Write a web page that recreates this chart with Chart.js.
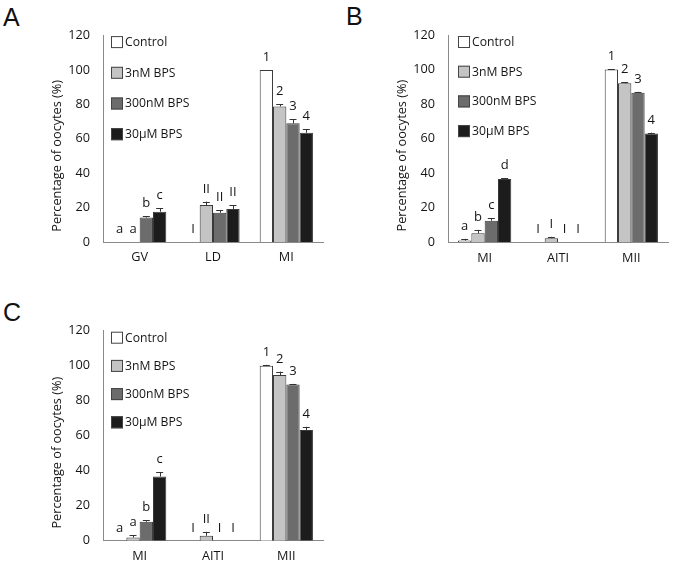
<!DOCTYPE html>
<html lang="en">
<head>
<meta charset="UTF-8">
<title>BPS - oocyte maturation</title>
<style>
  body { margin: 0; background: #fff; width: 675px; height: 567px; position: relative; overflow: hidden; }
  canvas { position: absolute; }
  .tag { position: absolute; font-family: "Liberation Sans", Arial, sans-serif; font-size: 25px; line-height: 25px; color: #111; }
</style>
</head>
<body>
<div class="tag" style="left:3px;top:5px">A</div>
<div class="tag" style="left:346px;top:4px">B</div>
<div class="tag" style="left:3px;top:300px">C</div>
<canvas id="chartA" width="337" height="290" style="left:0;top:0"></canvas>
<canvas id="chartB" width="335" height="290" style="left:340px;top:0"></canvas>
<canvas id="chartC" width="337" height="277" style="left:0;top:290px"></canvas>

<script src="https://cdn.jsdelivr.net/npm/chart.js@4"></script>
<script>
const seriesNames = ['Control', '3nM BPS', '300nM BPS', '30μM BPS'];
const seriesColors = ['#ffffff', '#c4c4c4', '#6c6c6c', '#1c1c1c'];
const yTicks = [0, 20, 40, 60, 80, 100, 120];
const yTitle = 'Percentage of oocytes (%)';

// panel A
const catsA = ['GV', 'LD', 'MI'];
const controlA = [0, 0, 100];
const bps3nA = [0, 21.5, 78.8];
const bps300nA = [14.2, 17, 69];
const bps30uA = [17.6, 19.2, 63.5];
const errControlA = [0, 0, 0];
const err3nA = [0, 2, 1.3];
const err300nA = [0.8, 1.5, 2.5];
const err30uA = [2, 2.2, 2.2];
const marksA = [['a', 'I', '1'], ['a', 'II', '2'], ['b', 'II', '3'], ['c', 'II', '4']];

// panel B
const catsB = ['MI', 'AITI', 'MII'];
const controlB = [1, 0, 100];
const bps3nB = [5.2, 2.4, 92];
const bps300nB = [12.5, 0, 86.5];
const bps30uB = [36.6, 0, 63];
const errControlB = [1, 0, 0.3];
const err3nB = [2, 0.8, 0.6];
const err300nB = [1.4, 0, 0.6];
const err30uB = [0.6, 0, 0.5];
const marksB = [['a', 'I', '1'], ['b', 'I', '2'], ['c', 'I', '3'], ['d', 'I', '4']];

// panel C
const catsC = ['MI', 'AITI', 'MII'];
const controlC = [0, 0, 100];
const bps3nC = [1.8, 2.8, 94.7];
const bps300nC = [10.8, 0, 89.3];
const bps30uC = [36.7, 0, 63.3];
const errControlC = [0, 0, 0.5];
const err3nC = [1.4, 2.3, 1.9];
const err300nC = [1, 0, 0.3];
const err30uC = [2.3, 0, 1.8];
const marksC = [['a', 'I', '1'], ['a', 'II', '2'], ['b', 'I', '3'], ['c', 'I', '4']];

Chart.defaults.font.family = '"Open Sans", sans-serif';
Chart.defaults.color = '#151515';

// error bars, group letters, legend and y title drawn on top of the bars
function decor(extra) {
  return {
    id: 'decor',
    afterDatasetsDraw(chart) {
      const ctx = chart.ctx;
      const y = chart.scales.y;
      const area = chart.chartArea;
      ctx.save();
      chart.data.datasets.forEach((ds, i) => {
        const meta = chart.getDatasetMeta(i);
        meta.data.forEach((bar, j) => {
          const v = ds.data[j];
          const e = extra.errors[i][j];
          const top = y.getPixelForValue(v + e);
          if (e > 0) {
            const y0 = y.getPixelForValue(v);
            ctx.strokeStyle = '#333';
            ctx.lineWidth = 1;
            ctx.beginPath();
            ctx.moveTo(Math.round(bar.x) + 0.5, y0);
            ctx.lineTo(Math.round(bar.x) + 0.5, top);
            ctx.moveTo(bar.x - 3.5, Math.round(top) + 0.5);
            ctx.lineTo(bar.x + 3.5, Math.round(top) + 0.5);
            ctx.stroke();
          }
          ctx.fillStyle = '#151515';
          ctx.font = '13px "Open Sans", sans-serif';
          ctx.textAlign = 'center';
          ctx.textBaseline = 'alphabetic';
          ctx.fillText(extra.marks[i][j], bar.x, top - 9);
        });
      });

      // legend inside the plot
      ctx.font = '12.2px "Open Sans", sans-serif';
      ctx.textAlign = 'left';
      ctx.textBaseline = 'middle';
      seriesNames.forEach((name, i) => {
        const cy = area.top + extra.legendTop + i * extra.legendStep;
        const bx = area.left + extra.legendLeft;
        ctx.fillStyle = seriesColors[i];
        ctx.fillRect(bx, cy - 6, 12, 12);
        ctx.strokeStyle = '#444';
        ctx.lineWidth = 1;
        ctx.strokeRect(bx + 0.5, cy - 5.5, 11, 11);
        ctx.fillStyle = '#151515';
        ctx.fillText(name, bx + 14, cy + 0.5);
      });

      // y axis title
      ctx.translate(area.left - 46, (area.top + area.bottom) / 2 + 17);
      ctx.rotate(-Math.PI / 2);
      ctx.textAlign = 'center';
      ctx.font = '12.7px "Open Sans", sans-serif';
      ctx.fillText(yTitle, 0, 0);
      ctx.restore();
    }
  };
}

function makeChart(id, cats, series, extra, box) {
  const canvas = document.getElementById(id);
  return new Chart(canvas, {
    type: 'bar',
    data: {
      labels: cats,
      datasets: series.map((vals, i) => ({
        label: seriesNames[i],
        data: vals,
        backgroundColor: seriesColors[i],
        borderColor: '#3a3a3a',
        borderWidth: 1,
        borderSkipped: 'start',
        categoryPercentage: 0.726,
        barPercentage: 1
      }))
    },
    options: {
      responsive: false,
      animation: false,
      layout: { padding: { left: 0, top: box.top, right: canvas.width - box.right, bottom: 0 } },
      plugins: { legend: { display: false }, tooltip: { enabled: false } },
      scales: {
        x: {
          grid: { display: false, drawTicks: false },
          border: { display: true, color: '#8a8a8a', width: 1 },
          ticks: { font: { size: 12.7 }, padding: 8, color: '#151515' },
          afterFit: (s) => { s.height = canvas.height - box.bottom; }
        },
        y: {
          min: 0,
          max: 120,
          grid: { display: false, drawTicks: false },
          border: { display: true, color: '#8a8a8a', width: 1 },
          ticks: { font: { size: 12.7 }, padding: 13, color: '#151515' },
          afterBuildTicks: (s) => { s.ticks = yTicks.map(v => ({ value: v })); },
          afterFit: (s) => { s.width = box.left; }
        }
      }
    },
    plugins: [decor(extra)]
  });
}

makeChart('chartA', catsA, [controlA, bps3nA, bps300nA, bps30uA],
  { errors: [errControlA, err3nA, err300nA, err30uA], marks: marksA, legendLeft: 8, legendTop: 6.5, legendStep: 30.7 },
  { left: 103, top: 35.6, right: 323, bottom: 242 });

makeChart('chartB', catsB, [controlB, bps3nB, bps300nB, bps30uB],
  { errors: [errControlB, err3nB, err300nB, err30uB], marks: marksB, legendLeft: 10, legendTop: 7, legendStep: 29.7 },
  { left: 108, top: 35, right: 328, bottom: 242.3 });

makeChart('chartC', catsC, [controlC, bps3nC, bps300nC, bps30uC],
  { errors: [errControlC, err3nC, err300nC, err30uC], marks: marksC, legendLeft: 8, legendTop: 7, legendStep: 28.2 },
  { left: 103, top: 40.7, right: 323, bottom: 250.7 });
</script>
</body>
</html>
